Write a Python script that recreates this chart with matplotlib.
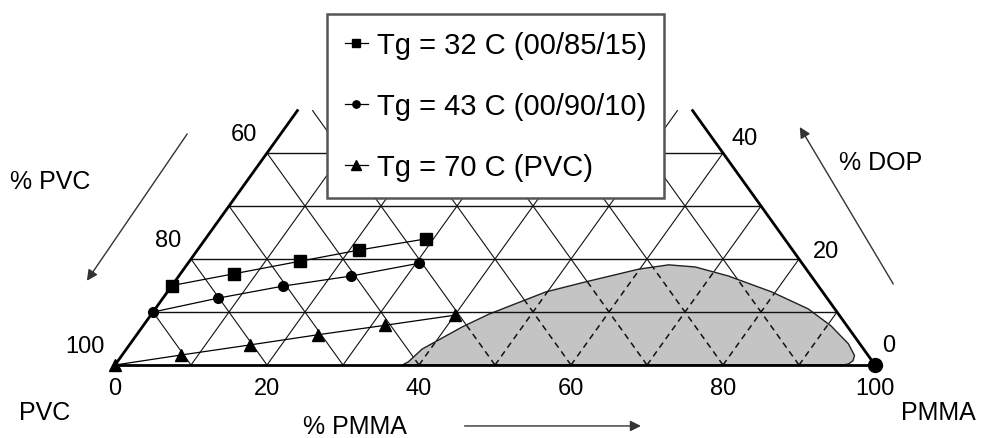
import numpy as np
import matplotlib.pyplot as plt
from matplotlib.patches import Polygon

plt.rcParams['font.family'] = ['Liberation Sans', 'DejaVu Sans']

# iso-Tg lines, composition in wt % (PVC is the remainder)
pmma_32 = [0, 7.0, 14.6, 21.3, 29.0]
dop_32 = [15.0, 17.2, 19.6, 21.7, 23.8]
pmma_43 = [0, 7.2, 14.7, 22.7, 30.4]
dop_43 = [10.0, 12.6, 14.9, 16.8, 19.2]
pmma_70 = [0, 7.8, 15.9, 23.8, 31.8, 40.0]
dop_70 = [0, 1.9, 3.8, 5.7, 7.5, 9.4]

labels = ['Tg = 32 C (00/85/15)', 'Tg = 43 C (00/90/10)', 'Tg = 70 C (PVC)']

# two-phase (immiscible) region
region_pmma = [37.8, 38.3, 38.9, 42.1, 44.4, 49.8, 54.1, 59.9, 63.4, 67.1,
               72.3, 79.5, 85.9, 90.5, 94.5, 96.4, 96.7, 96.4, 95.8]
region_dop = [0, 0.6, 3.0, 7.2, 9.6, 13.8, 15.7, 18.1, 18.9, 18.5,
              16.8, 13.8, 10.6, 7.4, 4.0, 1.8, 0.8, 0.2, 0]

pmma_ticks = [0, 20, 40, 60, 80, 100]
dop_ticks = [0, 20, 40]
top = 48  # diagram is cut off above this DOP level


def tern(pmma, dop):
    pmma = np.asarray(pmma, dtype=float)
    dop = np.asarray(dop, dtype=float)
    return pmma + dop / 2, dop


fig = plt.figure(figsize=(9.84, 4.39), dpi=100)
ax = fig.add_axes([0, 0, 1, 1])
ax.set_xlim(-15.13, 114.34)
ax.set_ylim(-13.77, 69.06)
ax.axis('off')

# grid
diag = []
for c in range(10, 100, 10):
    d = min(top, 100 - c)
    diag.append(tern([c, c], [0, d]))           # constant PMMA
    d = min(top, c)
    diag.append(tern([c, c - d], [0, d]))       # constant PVC
for x, y in diag:
    ax.plot(x, y, color='#111111', lw=0.8, zorder=1)
for d in range(10, 50, 10):
    x, y = tern([0, 100 - d], [d, d])
    ax.plot(x, y, color='#111111', lw=1.0, zorder=3)

# two-phase region, dashed grid inside it
rx, ry = tern(region_pmma, region_dop)
region = Polygon(np.column_stack([rx, ry]), closed=True, facecolor='#c4c4c4',
                 edgecolor='#222222', lw=1.0, zorder=2)
ax.add_patch(region)
for x, y in diag:
    ln, = ax.plot(x, y, color='#111111', lw=1.1, ls=(0, (4, 3)), zorder=2.5)
    ln.set_clip_path(region)

# triangle edges
x, y = tern([0, 0], [0, top])
ax.plot(x, y, color='k', lw=2, zorder=4)
x, y = tern([100, 100 - top], [0, top])
ax.plot(x, y, color='k', lw=2, zorder=4)
ax.plot([0, 100], [0, 0], color='k', lw=2, zorder=4)

# data
x, y = tern(pmma_32, dop_32)
ax.plot(x, y, color='k', lw=0.9, marker='s', ms=8, zorder=6, label=labels[0])
x, y = tern(pmma_43, dop_43)
ax.plot(x, y, color='k', lw=0.9, marker='o', ms=7, zorder=6, label=labels[1])
x, y = tern(pmma_70, dop_70)
ax.plot(x, y, color='k', lw=0.9, marker='^', ms=9, zorder=6, label=labels[2])
x, y = tern([100], [0])
ax.plot(x, y, color='k', marker='o', ms=10, ls='none', zorder=6)

# tick labels
for t in pmma_ticks:
    x, y = tern(t, 0)
    ax.annotate(str(t), (x, y), xytext=(0, -23), textcoords='offset pixels',
                ha='center', va='center', fontsize=17)
for t in dop_ticks:
    x, y = tern(0, t)
    ax.annotate(str(100 - t), (x, y), xytext=(-10, 19), textcoords='offset pixels',
                ha='right', va='center', fontsize=17)
for t, dx, dy in zip(dop_ticks, [7, 14, 8], [20, 8, 15]):
    x, y = tern(100 - t, t)
    ax.annotate(str(t), (x, y), xytext=(dx, dy), textcoords='offset pixels',
                ha='left', va='center', fontsize=17)

# corner and axis names
ax.text(-9.2, -8.9, 'PVC', ha='center', va='center', fontsize=18)
ax.text(108.3, -8.9, 'PMMA', ha='center', va='center', fontsize=18)
ax.text(31.6, -11.5, '% PMMA', ha='center', va='center', fontsize=18)
ax.text(-8.5, 34.7, '% PVC', ha='center', va='center', fontsize=18)
ax.text(100.7, 38.3, '% DOP', ha='center', va='center', fontsize=18)

arrow = dict(arrowstyle='-|>', color='#333333', lw=1.0, mutation_scale=16,
             shrinkA=0, shrinkB=0)
ax.annotate('', xy=(69.2, -11.5), xytext=(46.0, -11.5), arrowprops=arrow)
ax.annotate('', xy=(-3.7, 15.9), xytext=(9.5, 43.6), arrowprops=arrow)
ax.annotate('', xy=(90.1, 44.9), xytext=(102.4, 15.3), arrowprops=arrow)

leg = ax.legend(loc='upper left', bbox_to_anchor=(327 / 984, 1 - 15 / 439),
                bbox_transform=fig.transFigure, borderaxespad=0, fontsize=21,
                frameon=True, fancybox=False, framealpha=1, edgecolor='#555555',
                markerscale=0.75, handlelength=0.8, handletextpad=0.3,
                borderpad=0.6, labelspacing=1.12)
leg.get_frame().set_linewidth(1.8)
leg.set_zorder(10)

fig.savefig('out.png', dpi=100)
